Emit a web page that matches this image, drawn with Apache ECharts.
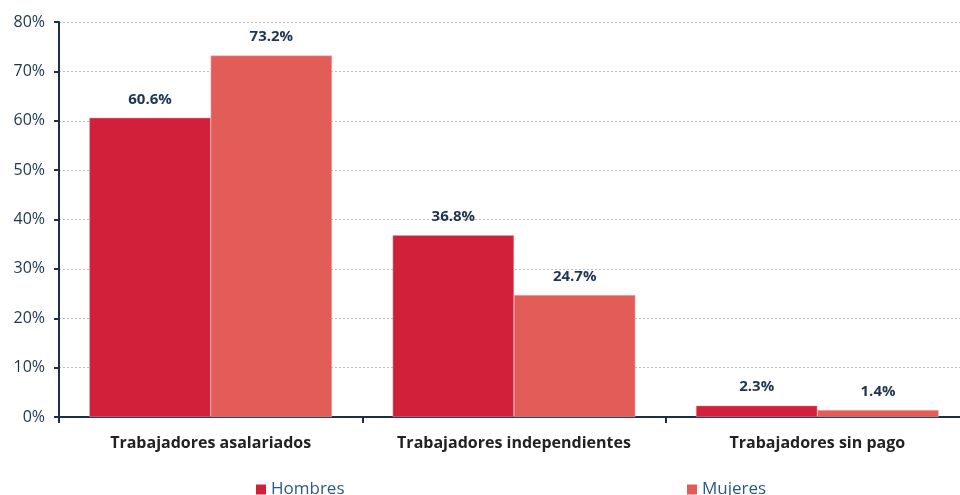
<!DOCTYPE html>
<html>
<head>
<meta charset="utf-8">
<script src="https://cdn.jsdelivr.net/npm/echarts@6/dist/echarts.min.js"></script>
<style>
html,body{margin:0;padding:0;background:#fff;}
#chart{width:960px;height:495px;}
</style>
</head>
<body>
<div id="chart"></div>
<script>
var categories = ['Trabajadores asalariados', 'Trabajadores independientes', 'Trabajadores sin pago'];
var hombres = [60.6, 36.8, 2.3];
var mujeres = [73.2, 24.7, 1.4];
var yTicks = [0, 10, 20, 30, 40, 50, 60, 70, 80];

var textColor = '#1d3550';
var fontFam = '"Open Sans", Lato, sans-serif';

var chart = echarts.init(document.getElementById('chart'));
chart.setOption({
    animation: false,
    grid: {left: 59, width: 910, top: 22, bottom: 78, containLabel: false, outerBoundsMode: 'none'},
    legend: [{
        data: ['Hombres'],
        left: 251, bottom: -8,
        icon: 'rect', itemWidth: 10, itemHeight: 10, itemGap: 3,
        itemStyle: {borderWidth: 0},
        textStyle: {color: '#2a5a85', fontSize: 17, fontFamily: fontFam}
    }, {
        data: ['Mujeres'],
        left: 682, bottom: -8,
        icon: 'rect', itemWidth: 10, itemHeight: 10, itemGap: 3,
        itemStyle: {borderWidth: 0},
        textStyle: {color: '#2a5a85', fontSize: 17, fontFamily: fontFam}
    }],
    xAxis: {
        type: 'category',
        data: categories,
        axisLine: {lineStyle: {color: '#1b2f4a', width: 2}},
        axisTick: {show: true, interval: 0, length: 6, lineStyle: {color: '#1b2f4a', width: 2}},
        axisLabel: {interval: 0, hideOverlap: false, color: '#222', fontSize: 16, fontWeight: 'bold', fontFamily: fontFam, margin: 18}
    },
    yAxis: {
        type: 'value',
        min: yTicks[0], max: yTicks[yTicks.length - 1], interval: 10,
        axisLine: {show: true, lineStyle: {color: '#1b2f4a', width: 2}},
        axisTick: {show: true, length: 5, lineStyle: {color: '#1b2f4a', width: 2}},
        axisLabel: {color: textColor, fontSize: 16, fontFamily: fontFam, margin: 14,
            formatter: function (v) { return v + '%'; }},
        splitLine: {lineStyle: {color: '#bbbbbb', type: [2, 2], width: 1}}
    },
    series: [{
        name: 'Hombres',
        type: 'bar',
        data: hombres,
        barWidth: '40%',
        barGap: 0,
        itemStyle: {color: '#d21f3a', borderColor: '#e8a0a8', borderWidth: 0.5},
        label: {show: true, position: 'top', distance: 11, color: textColor, fontSize: 15, fontWeight: 'bold', fontFamily: fontFam,
            formatter: function (p) { return p.value.toFixed(1) + '%'; }}
    }, {
        name: 'Mujeres',
        type: 'bar',
        data: mujeres,
        barWidth: '40%',
        barGap: 0,
        itemStyle: {color: '#e35d58', borderColor: '#f0b0ac', borderWidth: 0.5},
        label: {show: true, position: 'top', distance: 11, color: textColor, fontSize: 15, fontWeight: 'bold', fontFamily: fontFam,
            formatter: function (p) { return p.value.toFixed(1) + '%'; }}
    }]
});
</script>
</body>
</html>
